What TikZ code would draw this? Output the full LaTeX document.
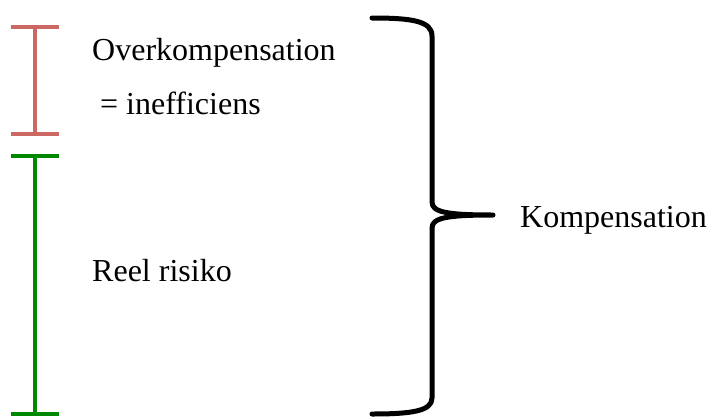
\documentclass[tikz,border=0pt]{standalone}
\usepackage{fontspec}
\setmainfont{Liberation Serif}
\usetikzlibrary{arrows.meta,positioning}
\definecolor{overred}{RGB}{204,104,100}
\definecolor{riskgreen}{RGB}{0,136,0}
\tikzset{label/.style={
        anchor=base west,
        inner sep=0pt,
        font=\fontsize{32}{38}\selectfont,
    },
    span/.style={
        line width=3.5pt,
        {Bar[width=48pt,line width=4pt]}-{Bar[width=48pt,line width=4pt]},
    },
    brace/.style={
        line width=5pt,
        line cap=round,
        line join=round,
    }
}

\begin{document}
\begin{tikzpicture}[x=1pt,y=-1pt]
  \useasboundingbox (0,0) rectangle (707,418);
  \coordinate (redtop) at (35,25);
  \coordinate (redbot) at (35,136);
  \coordinate (greentop) at (35,154);
  \coordinate (greenbot) at (35,416);
  \coordinate (bracetop) at (372,18);
  \coordinate (bracetip) at (493,215);
  \coordinate (bracebot) at (372,414);
  \node[label] (over) at (92,60) {Overkompensation};
  \node[label] (ineff) at (100,114) {= inefficiens};
  \node[label] (risk) at (92,281) {Reel risiko};
  \node[label] (komp) at (520,227) {Kompensation};
  \draw[span, overred] (redtop) -- (redbot);
  \draw[span, riskgreen] (greentop) -- (greenbot);
  \draw[brace]
  (bracetop) .. controls (412,18) and (432,21) .. (432,36)
  -- (432,202) .. controls (432,212) and (446,215) .. (bracetip)
  .. controls (446,215) and (432,218) .. (432,228)
  -- (432,398) .. controls (432,411) and (412,414) .. (bracebot);
\end{tikzpicture}
\end{document}
